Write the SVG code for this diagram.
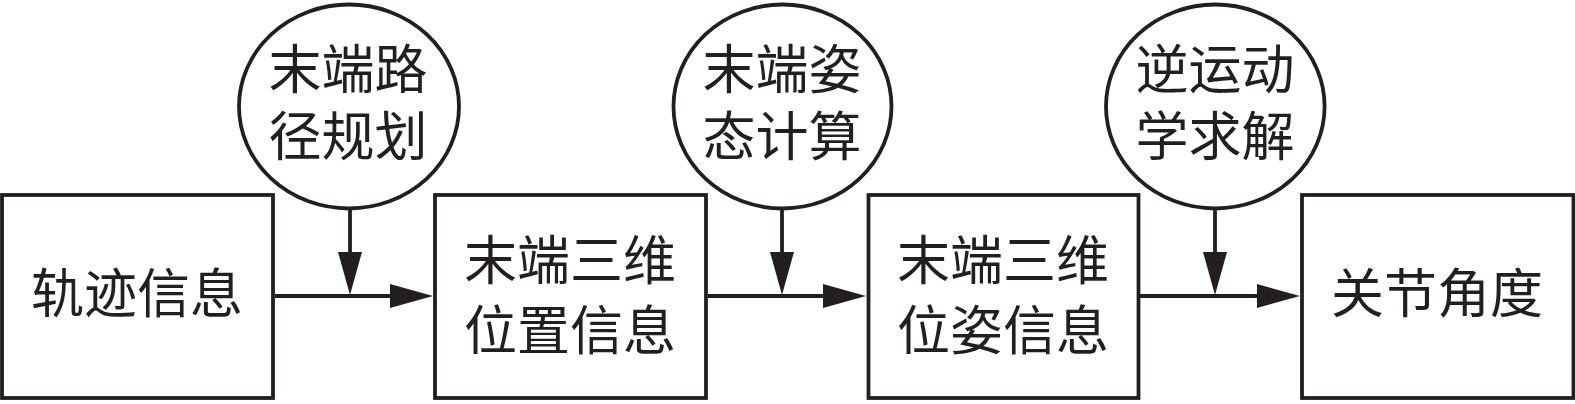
<svg xmlns="http://www.w3.org/2000/svg" width="1575" height="404" viewBox="0 0 1575 404">
<defs>
<style>
.box{fill:#fff;stroke:#231f20;stroke-width:3.8}
.node{fill:#fff;stroke:#231f20;stroke-width:3.8}
.lbl{font-family:"Noto Sans CJK SC","Noto Sans CJK JP",sans-serif;font-size:53px;fill:#231f20;text-anchor:middle}
.conn{fill:none;stroke:#231f20;stroke-width:3.8;marker-end:url(#ah)}
</style>
<marker id="ah" markerUnits="userSpaceOnUse" markerWidth="44" markerHeight="26" refX="33" refY="12" orient="auto">
<path d="M0,0 L43,12 L0,24 Z" fill="#231f20"/>
</marker>
</defs>
<rect width="1575" height="404" fill="#fff"/>
<g id="connectors">
<path class="conn" d="M275,296 H423"/>
<path class="conn" d="M708,296 H856"/>
<path class="conn" d="M1140,296 H1290"/>
<path class="conn" d="M350,209 V285"/>
<path class="conn" d="M782,209 V285"/>
<path class="conn" d="M1215,209 V285"/>
</g>
<g id="n1">
<rect class="box" x="2" y="195" width="271" height="203"/>
<text class="lbl" x="137" y="313">轨迹信息</text>
</g>
<g id="n2">
<rect class="box" x="435" y="195" width="271" height="203"/>
<text class="lbl" x="570" y="280">末端三维</text>
<text class="lbl" x="570" y="350">位置信息</text>
</g>
<g id="n3">
<rect class="box" x="868.5" y="195" width="270" height="203"/>
<text class="lbl" x="1003" y="280">末端三维</text>
<text class="lbl" x="1003" y="350">位姿信息</text>
</g>
<g id="n4">
<rect class="box" x="1302" y="195" width="271.5" height="203"/>
<text class="lbl" x="1437" y="313">关节角度</text>
</g>
<g id="c1">
<ellipse class="node" cx="349" cy="106.5" rx="110" ry="102"/>
<text class="lbl" x="348" y="89">末端路</text>
<text class="lbl" x="348" y="156">径规划</text>
</g>
<g id="c2">
<ellipse class="node" cx="782.5" cy="106.5" rx="109" ry="102"/>
<text class="lbl" x="782" y="89">末端姿</text>
<text class="lbl" x="782" y="156">态计算</text>
</g>
<g id="c3">
<ellipse class="node" cx="1215.3" cy="106.5" rx="109.3" ry="102"/>
<text class="lbl" x="1215" y="89">逆运动</text>
<text class="lbl" x="1215" y="156">学求解</text>
</g>
</svg>
